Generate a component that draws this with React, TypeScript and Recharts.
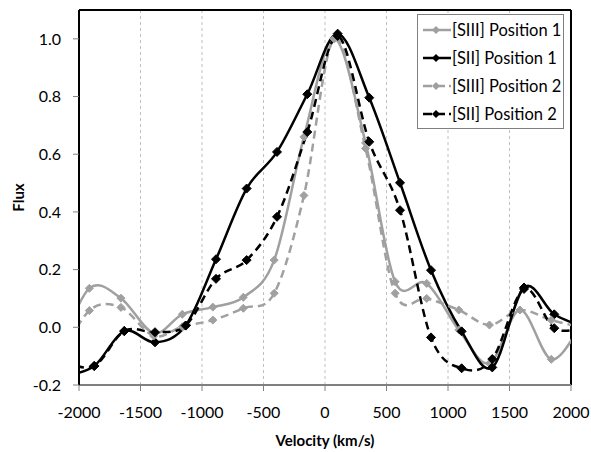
import React from 'react';
import { LineChart, Line, XAxis, YAxis, CartesianGrid, Legend, Label, ReferenceLine } from 'recharts';

const siiiVelocity = [-2165, -1916, -1659, -1393, -1160, -912, -664, -413, -171, 75, 330, 570, 827, 1088, 1337, 1585, 1840, 2085];
const siiVelocity = [-2125, -1876, -1632, -1382, -1133, -886, -637, -390, -144, 103, 360, 610, 862, 1111, 1360, 1618, 1864, 2113];

const siii1Flux = [-0.08, 0.135, 0.101, -0.02, 0.045, 0.07, 0.104, 0.233, 0.66, 1.0, 0.639, 0.158, 0.152, -0.009, -0.125, 0.06, -0.111, 0.01];
const sii1Flux = [-0.17, -0.134, -0.013, -0.052, 0.006, 0.236, 0.481, 0.608, 0.808, 1.018, 0.796, 0.501, 0.198, -0.014, -0.139, 0.138, 0.045, 0.0];
const siii2Flux = [-0.12, 0.058, 0.069, -0.03, 0.002, 0.025, 0.066, 0.118, 0.457, 1.0, 0.62, 0.118, 0.1, 0.06, 0.008, 0.06, 0.025, 0.0];
const sii2Flux = [-0.12, -0.134, -0.013, -0.017, 0.006, 0.168, 0.233, 0.383, 0.677, 1.01, 0.643, 0.406, -0.035, -0.142, -0.11, 0.133, -0.003, 0.0];

const xTicks = [-2000, -1500, -1000, -500, 0, 500, 1000, 1500, 2000];
const yTicks = [-0.2, 0, 0.2, 0.4, 0.6, 0.8, 1.0];

const GREY = '#a0a0a0';
const BLACK = '#000';

const toPoints = (v: number[], f: number[]) => v.map((x, i) => ({ v: x, f: f[i] }));

const series = [
  { name: '[SIII] Position 1', data: toPoints(siiiVelocity, siii1Flux), color: GREY, dash: undefined, size: 4 },
  { name: '[SII] Position 1', data: toPoints(siiVelocity, sii1Flux), color: BLACK, dash: undefined, size: 4.5 },
  { name: '[SIII] Position 2', data: toPoints(siiiVelocity, siii2Flux), color: GREY, dash: '8 5', size: 4 },
  { name: '[SII] Position 2', data: toPoints(siiVelocity, sii2Flux), color: BLACK, dash: '8 5', size: 4.5 },
];

// Excel-like smoothed line (Catmull-Rom as cubic beziers)
function excelSmooth(context: any) {
  let pts: number[][] = [];
  return {
    areaStart() {},
    areaEnd() {},
    lineStart() {
      pts = [];
    },
    point(x: number, y: number) {
      pts.push([+x, +y]);
    },
    lineEnd() {
      if (!pts.length) return;
      context.moveTo(pts[0][0], pts[0][1]);
      for (let i = 0; i < pts.length - 1; i++) {
        const p0 = pts[i - 1] || pts[i];
        const p1 = pts[i];
        const p2 = pts[i + 1];
        const p3 = pts[i + 2] || p2;
        context.bezierCurveTo(
          p1[0] + (p2[0] - p0[0]) / 6,
          p1[1] + (p2[1] - p0[1]) / 6,
          p2[0] - (p3[0] - p1[0]) / 6,
          p2[1] - (p3[1] - p1[1]) / 6,
          p2[0],
          p2[1]
        );
      }
    },
  };
}

const diamond = (cx: number, cy: number, r: number) =>
  `${cx},${cy - r} ${cx + r},${cy} ${cx},${cy + r} ${cx - r},${cy}`;

const makeDot = (color: string, r: number) => (props: any) => {
  const { cx, cy, index } = props;
  if (cx == null || cy == null) return <g key={index} />;
  return <polygon key={index} points={diamond(cx, cy, r)} fill={color} stroke={color} strokeWidth={1} />;
};

function LegendBox() {
  return (
    <div
      style={{
        border: '1px solid #7f7f7f',
        background: '#fff',
        padding: '1px 0 0 4px',
        width: 147,
        boxSizing: 'border-box',
      }}
    >
      {series.map((s) => (
        <div key={s.name} style={{ display: 'flex', alignItems: 'center', height: 28 }}>
          <svg width={30} height={12} style={{ flex: 'none' }}>
            <line x1={1} y1={6} x2={29} y2={6} stroke={s.color} strokeWidth={2.5} strokeDasharray={s.dash ? '9 4' : undefined} />
            <polygon points={diamond(14, 6, 4)} fill={s.color} />
          </svg>
          <span style={{ fontSize: 16.5, color: '#000', whiteSpace: 'nowrap' }}>{s.name}</span>
        </div>
      ))}
    </div>
  );
}

export default function App() {
  return (
    <div style={{ position: 'absolute', left: 0, top: 0, width: 591, height: 452, background: '#fff', fontFamily: 'Lato, sans-serif' }}>
      <LineChart width={591} height={452} margin={{ top: 10, right: 20, bottom: 0, left: 0 }}>
        <CartesianGrid horizontal={false} stroke="#c0c0c0" strokeDasharray="3 3" />
        <XAxis
          dataKey="v"
          type="number"
          domain={[-2000, 2000]}
          ticks={xTicks}
          allowDataOverflow
          height={67}
          tickSize={6}
          tickMargin={16}
          tick={{ fontSize: 16, fill: '#000' }}
          axisLine={{ stroke: '#808080', strokeWidth: 2 }}
          tickLine={{ stroke: '#808080' }}
        >
          <Label
            content={(p: any) => {
              const vb = p.viewBox;
              return (
                <text x={vb.x + vb.width / 2} y={vb.y + 61} textAnchor="middle" fontSize={15} fontWeight="bold" fill="#000">
                  Velocity (km/s)
                </text>
              );
            }}
          />
        </XAxis>
        <YAxis
          type="number"
          domain={[-0.2, 1.1]}
          ticks={yTicks}
          allowDataOverflow
          width={79}
          tickSize={6}
          tickMargin={12}
          tickFormatter={(t: number) => t.toFixed(1)}
          tick={{ fontSize: 16, fill: '#000' }}
          axisLine={{ stroke: BLACK, strokeWidth: 2 }}
          tickLine={{ stroke: '#808080' }}
        >
          <Label
            content={(p: any) => {
              const vb = p.viewBox;
              const cx = vb.x + 18;
              const cy = vb.y + vb.height / 2;
              return (
                <text x={cx} y={cy} transform={`rotate(-90 ${cx} ${cy})`} textAnchor="middle" dominantBaseline="central" fontSize={15} fontWeight="bold" fill="#000">
                  Flux
                </text>
              );
            }}
          />
        </YAxis>
        <ReferenceLine y={1.1} stroke={BLACK} strokeWidth={2} />
        <ReferenceLine x={2000} stroke={BLACK} strokeWidth={2} />
        {series.map((s) => (
          <Line
            key={s.name}
            data={s.data}
            dataKey="f"
            name={s.name}
            type={excelSmooth as any}
            stroke={s.color}
            strokeWidth={2.5}
            strokeDasharray={s.dash}
            dot={makeDot(s.color, s.size)}
            activeDot={false}
            isAnimationActive={false}
          />
        ))}
        <Legend content={() => <LegendBox />} layout="vertical" verticalAlign="middle" align="center" wrapperStyle={{ top: 14, left: 417, width: 147 }} />
      </LineChart>
    </div>
  );
}
